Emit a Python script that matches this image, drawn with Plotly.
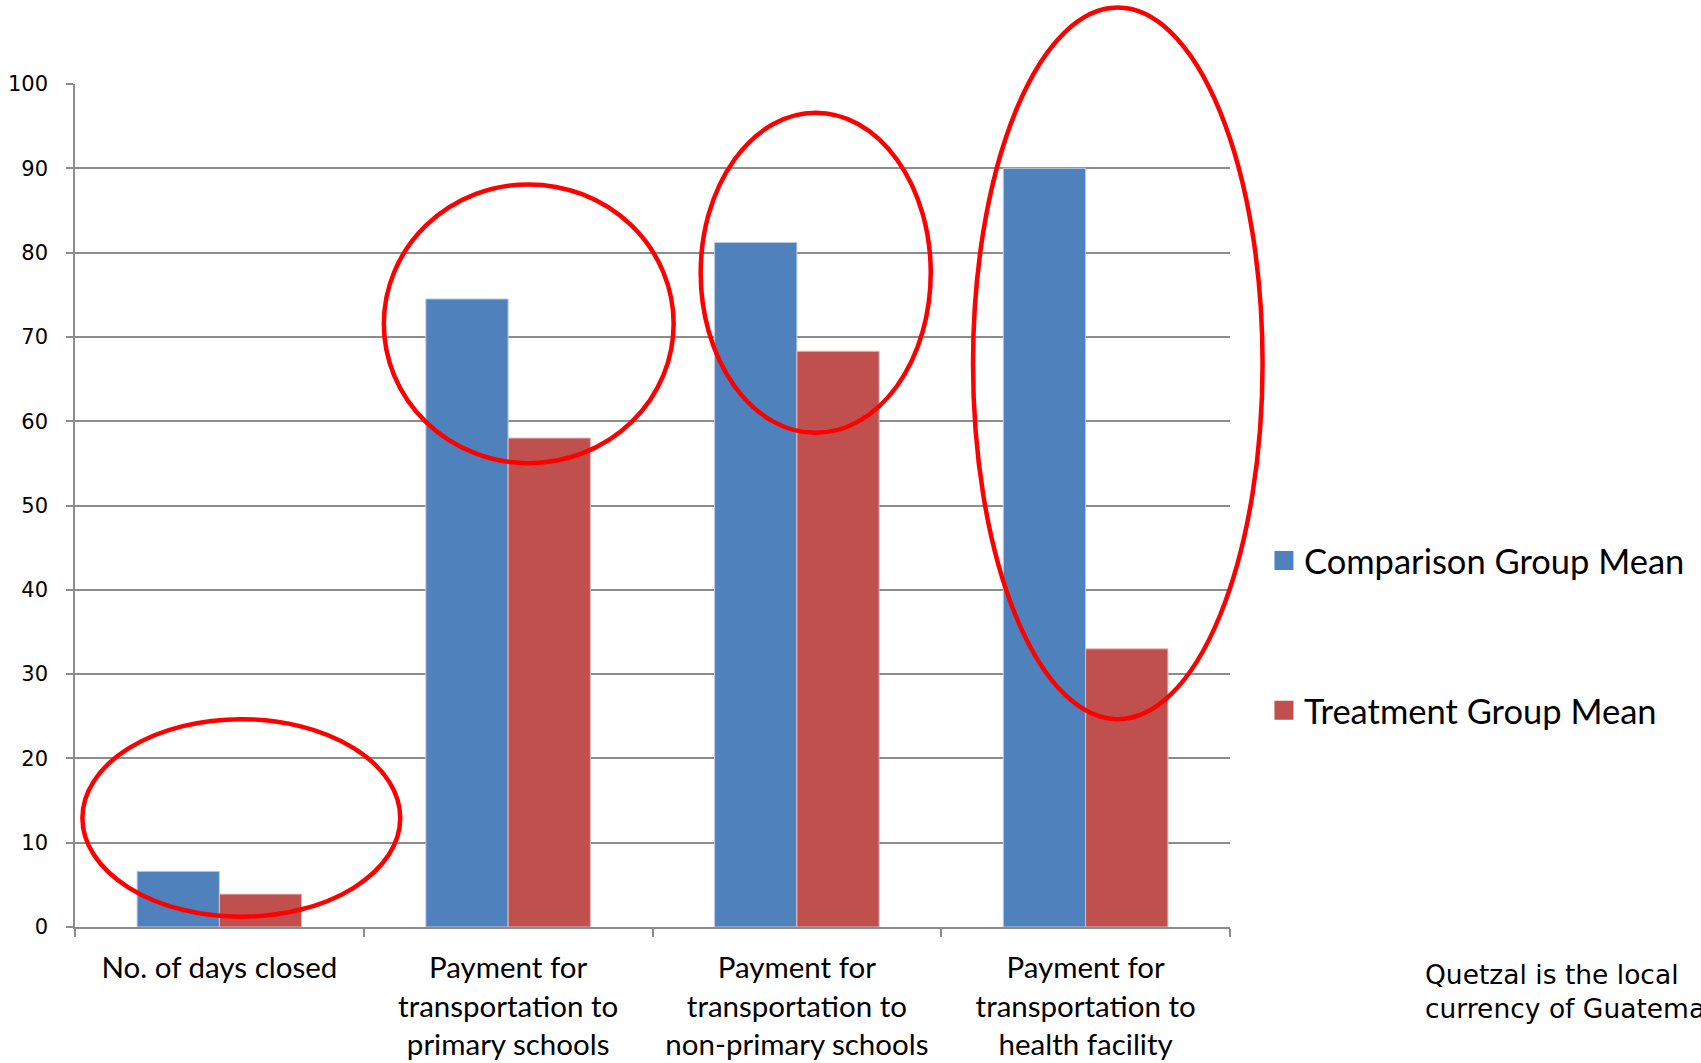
import plotly.graph_objects as go

# Category labels (line breaks as printed under the axis)
categories = [
    "No. of days closed",
    "Payment for<br>transportation to<br>primary schools",
    "Payment for<br>transportation to<br>non-primary schools",
    "Payment for<br>transportation to<br>health facility",
]
comparison_mean = [6.6, 74.5, 81.2, 90.0]
treatment_mean = [3.9, 58.0, 68.3, 33.0]
series_names = ["Comparison Group Mean", "Treatment Group Mean"]
y_ticks = [0, 10, 20, 30, 40, 50, 60, 70, 80, 90, 100]
note_text = "Quetzal is the local<br>currency of Guatemala"

BLUE = "#4F81BD"
RED = "#C0504D"
GRID = "#8C8C8C"

# Highlight ellipses in paper coordinates: (x0, y0, x1, y1)
highlights = [
    (0.0064, 0.0122, 0.2816, 0.2465),
    (0.2674, 0.5502, 0.5183, 0.8809),
    (0.5417, 0.5862, 0.7409, 0.9658),
    (0.7775, 0.2465, 1.0282, 1.0906),
]

fig = go.Figure()

fig.add_trace(go.Bar(
    x=categories, y=comparison_mean, name=series_names[0],
    marker=dict(color=BLUE, line=dict(color="#B9CDE5", width=1)),
    showlegend=False, legendgroup="c",
))
fig.add_trace(go.Bar(
    x=categories, y=treatment_mean, name=series_names[1],
    marker=dict(color=RED, line=dict(color="#E6B9B8", width=1)),
    showlegend=False, legendgroup="t",
))

# Legend entries with larger square swatches
for name, color, grp in [(series_names[0], BLUE, "c"), (series_names[1], RED, "t")]:
    fig.add_trace(go.Scatter(
        x=[None], y=[None], mode="markers", name=name, legendgroup=grp,
        marker=dict(symbol="square", size=16, color=color,
                    line=dict(color=color, width=3)),
        hoverinfo="skip",
    ))

shapes = []
for x0, y0, x1, y1 in highlights:
    shapes.append(dict(
        type="circle", xref="paper", yref="paper",
        x0=x0, y0=y0, x1=x1, y1=y1,
        line=dict(color="#FF0000", width=4.5),
        fillcolor="rgba(0,0,0,0)", layer="above",
    ))

fig.update_layout(
    width=1701, height=1063,
    margin=dict(l=75, r=471, t=84, b=136, autoexpand=False),
    paper_bgcolor="white", plot_bgcolor="white",
    barmode="group", bargap=0.43, bargroupgap=0,
    shapes=shapes,
    legend=dict(
        x=1.0294, xanchor="left", y=0.3458, yanchor="middle",
        traceorder="grouped", tracegroupgap=102,
        font=dict(family="Lato", size=34.5, color="black"),
        bgcolor="rgba(0,0,0,0)",
    ),
    annotations=[dict(
        text=note_text, xref="paper", yref="paper",
        x=1.1675, y=-0.036, xanchor="left", yanchor="top",
        align="left", showarrow=False,
        font=dict(family="DejaVu Sans", size=26.5, color="black"),
    )],
)

fig.update_xaxes(
    type="category", range=[-0.5, 3.5],
    showline=True, linecolor=GRID, linewidth=1.5,
    ticks="outside", tickson="boundaries", ticklen=8,
    tickcolor=GRID, tickwidth=1.5,
    showgrid=False, automargin=False, ticklabelstandoff=14,
    tickfont=dict(family="Lato", size=29.5, color="black"),
)
fig.update_yaxes(
    range=[0, 100], tickvals=y_ticks,
    showline=True, linecolor=GRID, linewidth=1.5,
    ticks="outside", ticklen=7, tickcolor=GRID, tickwidth=1.5,
    showgrid=True, gridcolor=GRID, gridwidth=1.5,
    zeroline=False, automargin=False, ticklabelstandoff=14,
    tickfont=dict(family="DejaVu Sans", size=21, color="black"),
)

fig.write_html("out.html", config={"displayModeBar": False})
